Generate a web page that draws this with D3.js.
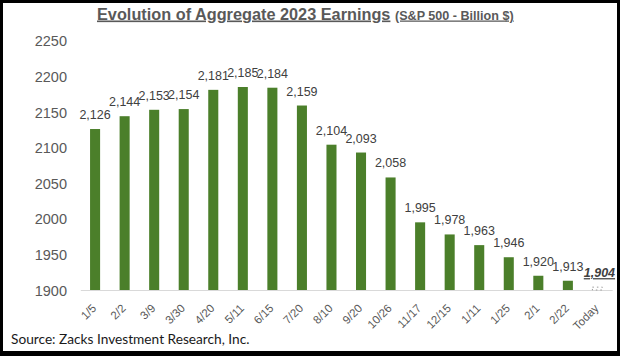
<!DOCTYPE html>
<html>
<head>
<meta charset="utf-8">
<script src="https://cdn.jsdelivr.net/npm/d3@7"></script>
<style>
  html, body { margin: 0; padding: 0; background: #fff; }
  svg { display: block; }
</style>
</head>
<body>
<svg id="chart" width="620" height="356"></svg>
<script>
const categories = ["1/5","2/2","3/9","3/30","4/20","5/11","6/15","7/20","8/10","9/20","10/26","11/17","12/15","1/11","1/25","2/1","2/22","Today"];
const earnings = [2126,2144,2153,2154,2181,2185,2184,2159,2104,2093,2058,1995,1978,1963,1946,1920,1913,1904];
const yTicks = [1900,1950,2000,2050,2100,2150,2200,2250];
const titleText = "Evolution of Aggregate 2023 Earnings";
const subtitleText = "(S&P 500 - Billion $)";
const sourceText = "Source: Zacks Investment Research, Inc.";

const svg = d3.select("#chart");
const W = 620, H = 356;

// frame
svg.append("rect").attr("x",0).attr("y",0).attr("width",W).attr("height",H).attr("fill","#000");
svg.append("rect").attr("x",3).attr("y",3).attr("width",614).attr("height",348).attr("fill","#fff");

const x = d3.scaleBand().domain(categories).range([80.3, 612.2]).paddingInner(0.66).paddingOuter(0.33);
const y = d3.scaleLinear().domain([1900, 2250]).range([290, 40.7]);

const font = "'Liberation Sans', Arial, sans-serif";

// title
const t = svg.append("text").attr("x", 97).attr("y", 19.5).attr("fill", "#595959")
  .style("font-family", font).style("font-weight", "bold");
t.append("tspan").style("font-size","16.3px").attr("text-decoration","underline").text(titleText);
t.append("tspan").style("font-size","16.3px").text(" ");
t.append("tspan").style("font-size","12.6px").attr("text-decoration","underline").text(subtitleText);

// y axis labels
const yAxis = d3.axisLeft(y).tickValues(yTicks).tickSize(0).tickPadding(0).tickFormat(d3.format("d"));
const gy = svg.append("g").attr("transform","translate(67,0)").call(yAxis);
gy.select(".domain").remove();
gy.selectAll("text").attr("fill","#595959").style("font-family",font).style("font-size","14.5px").attr("dy","0.35em");

// x baseline
const xAxis = d3.axisBottom(x).tickSize(0).tickPadding(0);
const gx = svg.append("g").attr("transform", `translate(0,${y(1900)})`).call(xAxis);
gx.select(".domain").attr("stroke","#d9d9d9").attr("stroke-width",1);
gx.selectAll(".tick text")
  .attr("text-anchor","end")
  .attr("fill","#595959")
  .style("font-family",font).style("font-size","11.5px")
  .attr("y",0).attr("dy",0)
  .attr("transform", function(){ return "translate(2,19) rotate(-45)"; });

// bars
const last = categories.length - 1;
svg.append("g").selectAll("rect").data(earnings).join("rect")
  .attr("x", (d,i) => x(categories[i]))
  .attr("width", x.bandwidth())
  .attr("y", d => y(d))
  .attr("height", d => y(1900) - y(d))
  .attr("fill", (d,i) => i === last ? "none" : "#4b7f2a")
  .attr("stroke", (d,i) => i === last ? "#9a9a9a" : "none")
  .attr("stroke-dasharray", (d,i) => i === last ? "1.5,3" : null);

// data labels
const fmt = d3.format(",");
svg.append("g").selectAll("text").data(earnings).join("text")
  .attr("x", (d,i) => x(categories[i]) + x.bandwidth()/2 + (i === last ? 2 : 0))
  .attr("y", d => y(d) - 10)
  .attr("text-anchor","middle")
  .attr("fill","#404040")
  .style("font-family",font)
  .style("font-size","12.5px")
  .style("font-weight",(d,i) => i === last ? "bold" : "normal")
  .style("font-style",(d,i) => i === last ? "italic" : "normal")
  .attr("text-decoration",(d,i) => i === last ? "underline" : null)
  .text(d => fmt(d));

// source
svg.append("text").attr("x", 11).attr("y", 344).attr("fill","#1a1a1a")
  .style("font-family","Lato, 'Open Sans', sans-serif").style("font-size","13.7px")
  .text(sourceText);
</script>
</body>
</html>
